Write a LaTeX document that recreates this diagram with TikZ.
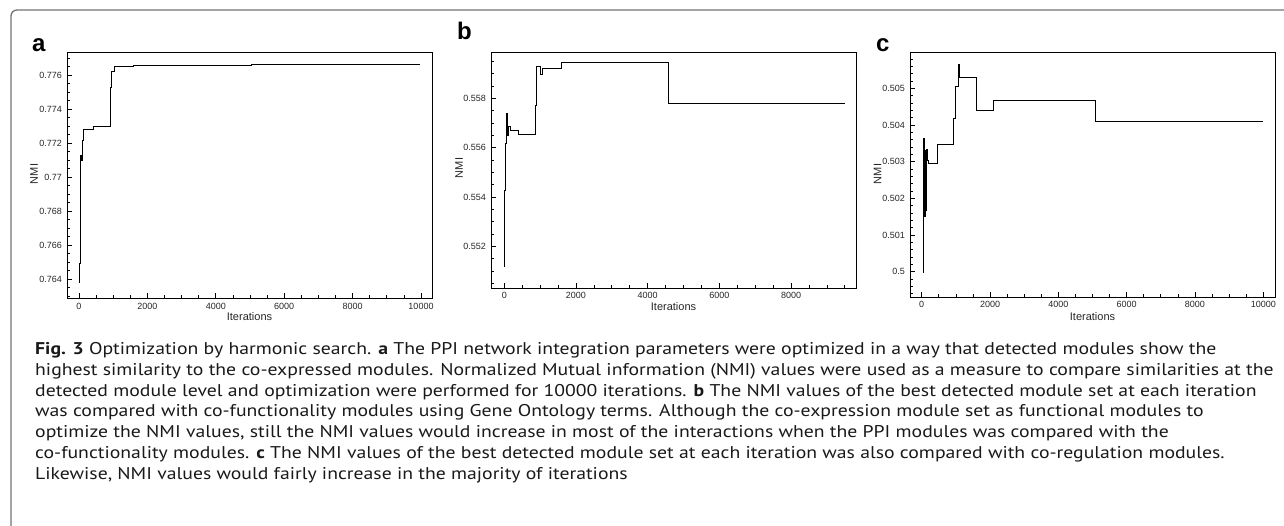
\documentclass[tikz,border=0pt]{standalone}
\usepackage{fontspec}
\newfontfamily\capfont[FakeStretch=1.16]{PT Sans}
\newfontfamily\plotfont{Liberation Sans}
\begin{document}
\begin{tikzpicture}[x=1pt,y=-1pt,
  frame/.style={draw=black!55, line width=1.3pt, rounded corners=6pt},
  axisline/.style={draw=black, line width=0.9pt},
  tickmark/.style={draw=black, line width=0.7pt},
  trace/.style={draw=black, line width=0.9pt},
  ticklab/.style={font=\plotfont\fontsize{9}{10}\selectfont, inner sep=0pt, text=black!85},
  axlab/.style={font=\plotfont\fontsize{11}{12}\selectfont, inner sep=0pt, text=black!85},
  panel/.style={font=\plotfont\bfseries\fontsize{24}{26}\selectfont, inner sep=0pt, anchor=base west},
  capt/.style={font=\capfont\fontsize{17}{20.8}\selectfont, inner sep=0pt, anchor=base west, text=black!90}]
\useasboundingbox (0,0) rectangle (1284,526);

% outer frame, open to the right and bottom
\draw[frame] (11,540) -- (11,10) -- (1300,10);

% ---------------- panel a ----------------
\node[panel] (la) at (32,52) {a};
\draw[axisline] (67,52) rectangle (432,298);
\foreach \k in {0,...,20} \draw[tickmark] (79+\k*17.1,298) -- ++(0,-2.7);
\foreach \k/\t in {0/0,4/2000,8/4000,12/6000,16/8000,20/10000} {
  \draw[tickmark] (79+\k*17.1,298) -- ++(0,-5);
  \node[ticklab, anchor=base] (ax\k) at (79+\k*17.1,309) {\t};
}
\foreach \k in {-2,...,26} \draw[tickmark] (67,279.3-\k*8.5125) -- ++(2.7,0);
\foreach \k/\t in {0/0.764,4/0.766,8/0.768,12/0.77,16/0.772,20/0.774,24/0.776} {
  \draw[tickmark] (67,279.3-\k*8.5125) -- ++(5,0);
  \node[ticklab, anchor=east] (ay\k) at (62,279.3-\k*8.5125) {\t};
}
\node[axlab, anchor=base] (axa) at (249.5,321) {Iterations};
\node[axlab, rotate=90] (aya) at (34,174) {NMI};
\draw[trace] (79,282.7) -- (79,263) -- (80,263) -- (80,155) -- (81.5,155) -- (81.5,160)
  -- (82.3,160) -- (82.3,140) -- (83.3,140) -- (83.3,129.3) -- (93.3,129.3) -- (93.3,126.7)
  -- (110,126.7) -- (110,87.7) -- (111,87.7) -- (111,71) -- (114.3,71) -- (114.3,66)
  -- (133.3,66) -- (133.3,65) -- (251.7,65) -- (251.7,64) -- (420,64);

% ---------------- panel b ----------------
\node[panel] (lb) at (457,40) {b};
\draw[axisline] (491,52) rectangle (856,288);
\foreach \k in {0,...,19} \draw[tickmark] (504.3+\k*17.92,288) -- ++(0,-2.7);
\foreach \k/\t in {0/0,4/2000,8/4000,12/6000,16/8000} {
  \draw[tickmark] (504.3+\k*17.92,288) -- ++(0,-5);
  \node[ticklab, anchor=base] (bx\k) at (504.3+\k*17.92,299) {\t};
}
\foreach \k in {-3,...,15} \draw[tickmark] (491,98.3+\k*12.33) -- ++(2.7,0);
\foreach \k/\t in {0/0.558,4/0.556,8/0.554,12/0.552} {
  \draw[tickmark] (491,98.3+\k*12.33) -- ++(5,0);
  \node[ticklab, anchor=east] (by\k) at (486,98.3+\k*12.33) {\t};
}
\node[axlab, anchor=base] (axb) at (673.5,311) {Iterations};
\node[axlab, rotate=90] (ayb) at (459,168) {NMI};
\draw[trace, line width=1.6pt] (504.3,267) -- (504.3,190);
\draw[trace] (504.3,190) -- (505.5,190) -- (505.5,143) -- (506.5,143) -- (506.5,113)
  -- (507.3,113) -- (507.3,135) -- (508.3,135) -- (508.3,126.7) -- (510,126.7) -- (510,130.7)
  -- (518.3,130.7) -- (518.3,134.3) -- (535.3,134.3) -- (535.3,105) -- (536.3,105)
  -- (536.3,66.7) -- (540,66.7) -- (540,74) -- (542.3,74) -- (542.3,68.3) -- (561,68.3)
  -- (561,62.3) -- (668.3,62.3) -- (668.3,103.7) -- (845,103.7);

% ---------------- panel c ----------------
\node[panel] (lc) at (876,52) {c};
\draw[axisline] (910,52) rectangle (1275,297);
\foreach \k in {0,...,20} \draw[tickmark] (921.7+\k*17.08,297) -- ++(0,-2.7);
\foreach \k/\t in {0/0,4/2000,8/4000,12/6000,16/8000,20/10000} {
  \draw[tickmark] (921.7+\k*17.08,297) -- ++(0,-5);
  \node[ticklab, anchor=base] (cx\k) at (921.7+\k*17.08,308) {\t};
}
\foreach \k in {-3,...,29} \draw[tickmark] (910,271.7-\k*7.333) -- ++(2.7,0);
\foreach \k/\t in {0/0.5,5/0.501,10/0.502,15/0.503,20/0.504,25/0.505} {
  \draw[tickmark] (910,271.7-\k*7.333) -- ++(5,0);
  \node[ticklab, anchor=east] (cy\k) at (905,271.7-\k*7.333) {\t};
}
\node[axlab, anchor=base] (axc) at (1092.5,320) {Iterations};
\node[axlab, rotate=90] (ayc) at (877.5,174) {NMI};
\draw[trace] (923.3,272.7) -- (923.3,138.3) -- (924.3,138.3) -- (924.3,216) -- (925,216)
  -- (925,150) -- (925.7,150) -- (925.7,210) -- (926.3,210) -- (926.3,149) -- (927.5,149)
  -- (927.5,160) -- (928.3,160) -- (928.3,163.3) -- (937.3,163.3) -- (937.3,144.3)
  -- (953.3,144.3) -- (953.3,118.3) -- (955,118.3) -- (955,86.7) -- (958.3,86.7)
  -- (958.3,64.3) -- (959.5,64.3) -- (959.5,77.3) -- (976,77.3) -- (976,110) -- (993.3,110)
  -- (993.3,100) -- (1095.7,100) -- (1095.7,121.7) -- (1263.3,121.7);

% ---------------- caption ----------------
\node[capt] (cap1) at (35,354.5) {\textbf{Fig. 3} Optimization by harmonic search. \textbf{a} The PPI network integration parameters were optimized in a way that detected modules show the};
\node[capt] (cap2) at (35,375.3) {highest similarity to the co-expressed modules. Normalized Mutual information (NMI) values were used as a measure to compare similarities at the};
\node[capt] (cap3) at (35,396.1) {detected module level and optimization were performed for 10000 iterations. \textbf{b} The NMI values of the best detected module set at each iteration};
\node[capt] (cap4) at (35,416.9) {was compared with co-functionality modules using Gene Ontology terms. Although the co-expression module set as functional modules to};
\node[capt] (cap5) at (35,437.7) {optimize the NMI values, still the NMI values would increase in most of the interactions when the PPI modules was compared with the};
\node[capt] (cap6) at (35,458.5) {co-functionality modules. \textbf{c} The NMI values of the best detected module set at each iteration was also compared with co-regulation modules.};
\node[capt] (cap7) at (35,479.3) {Likewise, NMI values would fairly increase in the majority of iterations};
\end{tikzpicture}
\end{document}
